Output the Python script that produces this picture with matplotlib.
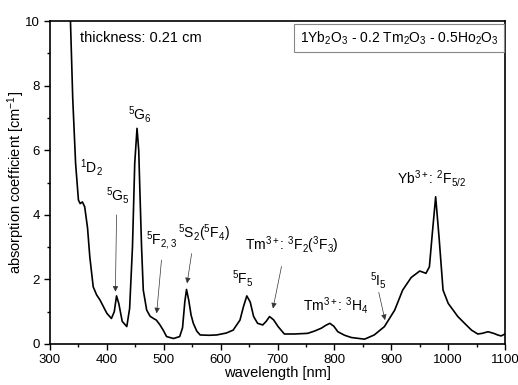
import numpy as np
import matplotlib
matplotlib.use("Agg")
from matplotlib import pyplot as plt

plt.rcParams['font.family'] = ['Liberation Sans', 'DejaVu Sans']
plt.rcParams['mathtext.fontset'] = 'custom'
plt.rcParams['mathtext.rm'] = 'Liberation Sans'
plt.rcParams['mathtext.it'] = 'Liberation Sans'
plt.rcParams['mathtext.bf'] = 'Liberation Sans:bold'

# spectrum
wavelength = [336, 340, 345, 350, 353, 357, 361, 366, 370, 376, 382, 388, 395, 400, 408,
              413, 417, 421, 427, 435, 440, 445, 449, 453, 456, 458, 461, 464, 470, 476,
              482, 487, 493, 499, 505, 517, 528, 533, 537, 540, 544, 548, 552, 558, 564,
              580, 593, 610, 622, 634, 640, 646, 652, 658, 665, 674, 680, 686, 693, 701,
              712, 730, 753, 765, 777, 785, 792, 799, 806, 818, 830, 853, 870, 888, 906,
              920, 935, 950, 961, 967, 972, 978, 984, 991, 1000, 1017, 1030, 1041, 1052,
              1060, 1070, 1080, 1087, 1093, 1100]
absorption = [10.0, 7.6, 5.6, 4.46, 4.35, 4.4, 4.25, 3.6, 2.7, 1.77, 1.52, 1.36, 1.12, 0.95, 0.79,
              1.0, 1.49, 1.25, 0.7, 0.54, 1.1, 3.0, 5.6, 6.68, 6.0, 4.77, 3.0, 1.67, 1.05, 0.86,
              0.79, 0.74, 0.6, 0.43, 0.23, 0.17, 0.23, 0.5, 1.3, 1.69, 1.35, 0.9, 0.64, 0.4, 0.28,
              0.27, 0.28, 0.34, 0.43, 0.74, 1.15, 1.49, 1.3, 0.85, 0.64, 0.59, 0.7, 0.85, 0.75, 0.54,
              0.31, 0.31, 0.33, 0.4, 0.49, 0.58, 0.64, 0.55, 0.38, 0.27, 0.2, 0.15, 0.28, 0.54, 1.05,
              1.67, 2.06, 2.26, 2.19, 2.39, 3.4, 4.56, 3.3, 1.67, 1.26, 0.85, 0.62, 0.43, 0.31,
              0.33, 0.38, 0.33, 0.28, 0.25, 0.31]

fig = plt.figure(figsize=(5.18, 3.85), dpi=100)
ax = fig.add_axes([0.0965, 0.1065, 0.8785, 0.8385])
ax.plot(wavelength, absorption, color='black', lw=1.2)

ax.set_xlim(300, 1100)
ax.set_ylim(0, 10)
ax.set_xticks(range(300, 1101, 100))
ax.set_xticks(range(350, 1100, 100), minor=True)
ax.set_yticks(range(0, 11, 2))
ax.set_yticks(range(1, 10, 2), minor=True)
ax.tick_params(direction='out', labelsize=9.5, length=4, width=1)
ax.tick_params(which='minor', direction='out', length=2.5, width=1)
for s in ax.spines.values():
    s.set_linewidth(1.2)
ax.set_xlabel('wavelength [nm]', fontsize=10.5, labelpad=0)
ax.set_ylabel(r'absorption coefficient [cm$^{-1}$]', fontsize=10.5, labelpad=-2)

ax.text(0.066, 0.947, 'thickness: 0.21 cm', transform=ax.transAxes, fontsize=10.5, va='center')
ax.text(0.985, 0.975, r'1Yb$_2$O$_3$ - 0.2 Tm$_2$O$_3$ - 0.5Ho$_2$O$_3$', transform=ax.transAxes,
        fontsize=10, ha='right', va='top',
        bbox=dict(boxstyle='square,pad=0.4', fc='white', ec='#888888', lw=0.8))

arrow = dict(arrowstyle='-|>', color='#333333', lw=0.5, mutation_scale=8, shrinkA=0, shrinkB=0)
fs = 10
lab = dict(fontsize=fs, ha='center', va='center')
ax.text(373, 5.48, r'$^1$D$_2$', **lab)
ax.text(458, 7.12, r'$^5$G$_6$', **lab)
ax.text(639, 2.04, r'$^5$F$_5$', **lab)
ax.text(802, 1.18, r'Tm$^{3+}$: $^3$H$_4$', **lab)
ax.text(971, 5.14, r'Yb$^{3+}$: $^2$F$_{5/2}$', **lab)
ax.text(419, 4.61, r'$^5$G$_5$', **lab)
ax.annotate('', xy=(415, 1.62), xytext=(417, 4.0), arrowprops=arrow)
ax.text(496, 3.19, r'$^5$F$_{2,3}$', **lab)
ax.annotate('', xy=(487.5, 0.95), xytext=(496, 2.6), arrowprops=arrow)
ax.text(571, 3.44, r'$^5$S$_2$($^5$F$_4$)', **lab)
ax.annotate('', xy=(541, 1.88), xytext=(549, 2.8), arrowprops=arrow)
ax.text(726, 3.07, r'Tm$^{3+}$: $^3$F$_2$($^3$F$_3$)', **lab)
ax.annotate('', xy=(692, 1.1), xytext=(707, 2.4), arrowprops=arrow)
ax.text(877, 1.98, r'$^5$I$_5$', **lab)
ax.annotate('', xy=(889, 0.74), xytext=(878, 1.6), arrowprops=arrow)

fig.savefig('out.png', dpi=100)
